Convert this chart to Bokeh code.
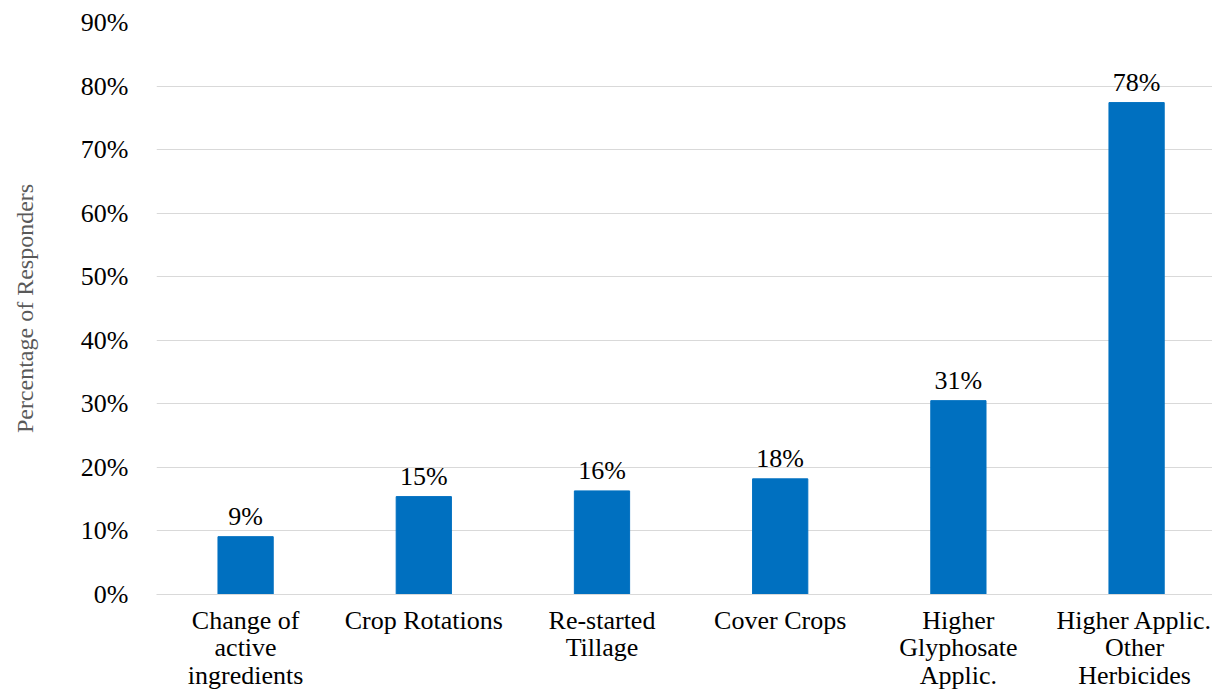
from bokeh.plotting import figure
from bokeh.models import ColumnDataSource, FixedTicker, Range1d
from bokeh.embed import file_html
from bokeh.resources import INLINE
from bokeh.core.properties import value

categories = ["Change of\nactive\ningredients", "Crop Rotations", "Re-started\nTillage",
              "Cover Crops", "Higher\nGlyphosate\nApplic.", "Higher Applic.\nOther\nHerbicides"]
values = [9.1, 15.4, 16.3, 18.2, 30.5, 77.4]
labels = ["9%", "15%", "16%", "18%", "31%", "78%"]
y_ticks = [0, 10, 20, 30, 40, 50, 60, 70, 80, 90]

xs = list(range(len(categories)))
src = ColumnDataSource(dict(x=xs, top=values, label=labels))

FONT = "Liberation Serif"

# the original chart is cropped on the right: the last category slot is cut off
p = figure(width=1212, height=692, output_backend="svg", toolbar_location=None,
           x_range=Range1d(-0.5, 5.426), y_range=Range1d(0, 90),
           min_border_left=156, min_border_top=22, min_border_bottom=90, min_border_right=0)
p.outline_line_color = None
p.background_fill_color = "white"

p.vbar(x="x", top="top", width=0.31, bottom=0, source=src, color="#0070C0")
p.text(x="x", y="top", text="label", source=src, text_align="center", text_baseline="bottom",
       y_offset=-6, text_font=value(FONT), text_font_size="26px", text_color="black")

p.xgrid.grid_line_color = None
p.ygrid.grid_line_color = "#d9d9d9"
p.ygrid.grid_line_width = 1

p.yaxis.ticker = FixedTicker(ticks=y_ticks)
p.yaxis.major_label_overrides = {t: f"{t}%" for t in y_ticks}
p.yaxis.axis_line_color = None
p.yaxis.major_tick_line_color = None
p.yaxis.minor_tick_line_color = None
p.yaxis.major_label_text_font = FONT
p.yaxis.major_label_text_font_size = "26px"
p.yaxis.major_label_text_color = "black"
p.yaxis.major_label_standoff = 22
p.yaxis.axis_label = "Percentage of Responders"
p.yaxis.axis_label_text_font = FONT
p.yaxis.axis_label_text_font_size = "24px"
p.yaxis.axis_label_text_font_style = "normal"
p.yaxis.axis_label_text_color = "#595959"
p.yaxis.axis_label_standoff = 40

p.xaxis.ticker = FixedTicker(ticks=xs)
p.xaxis.major_label_overrides = {i: c for i, c in enumerate(categories)}
p.xaxis.axis_line_color = "#d9d9d9"
p.xaxis.major_tick_line_color = None
p.xaxis.minor_tick_line_color = None
p.xaxis.major_label_text_font = FONT
p.xaxis.major_label_text_font_size = "26px"
p.xaxis.major_label_text_line_height = 0.95
p.xaxis.major_label_text_color = "black"
p.xaxis.major_label_standoff = 5

open("out.html", "w").write(file_html(p, INLINE))
